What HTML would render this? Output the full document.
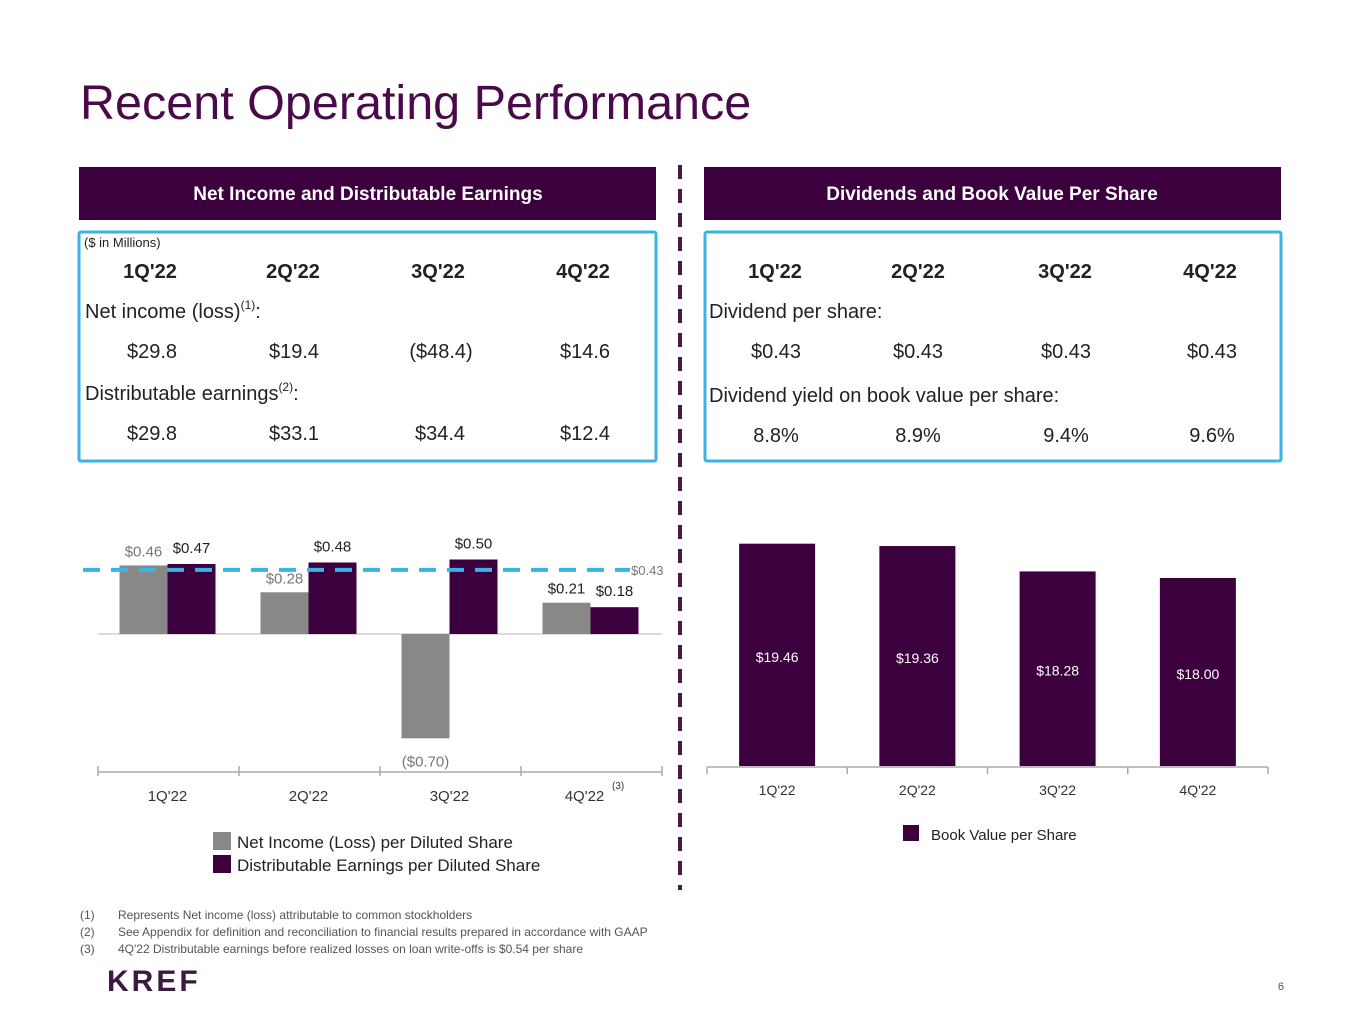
<!DOCTYPE html>
<html><head><meta charset="utf-8"><style>
body{margin:0;background:#fff}
svg{display:block;font-family:"Liberation Sans",sans-serif}
</style></head><body>
<svg width="1365" height="1024" viewBox="0 0 1365 1024">
<text x="80" y="119" font-size="48.5" fill="#4a0a4a">Recent Operating Performance</text>

<rect x="79" y="167" width="577" height="53" fill="#3c003e"/>
<text x="368" y="200" font-size="19" font-weight="bold" fill="#fff" text-anchor="middle">Net Income and Distributable Earnings</text>
<rect x="704" y="167" width="577" height="53" fill="#3c003e"/>
<text x="992" y="200" font-size="19" font-weight="bold" fill="#fff" text-anchor="middle">Dividends and Book Value Per Share</text>

<rect x="79" y="232" width="577" height="229" fill="none" stroke="#3ab3e5" stroke-width="3" rx="2"/>
<rect x="705" y="232" width="576" height="229" fill="none" stroke="#3ab3e5" stroke-width="3" rx="2"/>

<line x1="680" y1="165" x2="680" y2="890" stroke="#4a1a4a" stroke-width="4" stroke-dasharray="14,10"/>

<g font-size="20" fill="#222">
<text x="84" y="247" font-size="13">($ in Millions)</text>
<g font-weight="bold" text-anchor="middle">
<text x="150" y="278">1Q'22</text><text x="293" y="278">2Q'22</text><text x="438" y="278">3Q'22</text><text x="583" y="278">4Q'22</text></g>
<text x="85" y="318">Net income (loss)<tspan font-size="12" dy="-9">(1)</tspan><tspan dy="9">:</tspan></text>
<g text-anchor="middle"><text x="152" y="358">$29.8</text><text x="294" y="358">$19.4</text><text x="441" y="358">($48.4)</text><text x="585" y="358">$14.6</text></g>
<text x="85" y="400">Distributable earnings<tspan font-size="12" dy="-9">(2)</tspan><tspan dy="9">:</tspan></text>
<g text-anchor="middle"><text x="152" y="440">$29.8</text><text x="294" y="440">$33.1</text><text x="440" y="440">$34.4</text><text x="585" y="440">$12.4</text></g>
</g>

<g font-size="20" fill="#222">
<g font-weight="bold" text-anchor="middle">
<text x="775" y="278">1Q'22</text><text x="918" y="278">2Q'22</text><text x="1065" y="278">3Q'22</text><text x="1210" y="278">4Q'22</text></g>
<text x="709" y="318">Dividend per share:</text>
<g text-anchor="middle"><text x="776" y="358">$0.43</text><text x="918" y="358">$0.43</text><text x="1066" y="358">$0.43</text><text x="1212" y="358">$0.43</text></g>
<text x="709" y="402">Dividend yield on book value per share:</text>
<g text-anchor="middle"><text x="776" y="442">8.8%</text><text x="918" y="442">8.9%</text><text x="1066" y="442">9.4%</text><text x="1212" y="442">9.6%</text></g>
</g>

<g id="left-chart"></g>
<g id="right-chart"></g>

<g font-size="17" fill="#222">
<rect x="213" y="832" width="18" height="18" fill="#888"/>
<text x="237" y="848">Net Income (Loss) per Diluted Share</text>
<rect x="213" y="855" width="18" height="18" fill="#3c003e"/>
<text x="237" y="871">Distributable Earnings per Diluted Share</text>
</g>
<g font-size="15" fill="#222">
<rect x="903" y="825" width="16" height="16" fill="#3c003e"/>
<text x="931" y="840">Book Value per Share</text>
</g>

<g font-size="12" fill="#555">
<text x="80" y="919">(1)</text><text x="118" y="919">Represents Net income (loss)  attributable to common stockholders</text>
<text x="80" y="936">(2)</text><text x="118" y="936">See Appendix for definition and reconciliation to financial results prepared in accordance with GAAP</text>
<text x="80" y="953">(3)</text><text x="118" y="953">4Q'22 Distributable earnings before realized losses on loan write-offs is $0.54 per share</text>
</g>
<text x="107" y="991" font-size="30" font-weight="bold" fill="#3a1a3e" letter-spacing="3">KREF</text>
<text x="1284" y="990" font-size="11" fill="#555" text-anchor="end">6</text>
</svg>
<script>
const NS="http://www.w3.org/2000/svg";
const categories=["1Q'22","2Q'22","3Q'22","4Q'22"];
const netIncome=[0.46,0.28,-0.70,0.21];
const netIncomeLabels=["$0.46","$0.28","($0.70)","$0.21"];
const distributable=[0.47,0.48,0.50,0.18];
const distributableLabels=["$0.47","$0.48","$0.50","$0.18"];
const dividendLine=0.43;
const bookValue=[19.46,19.36,18.28,18.00];
const bookValueLabels=["$19.46","$19.36","$18.28","$18.00"];

function mk(tag,attrs,parent,txt){const e=document.createElementNS(NS,tag);for(const k in attrs)e.setAttribute(k,attrs[k]);if(txt!=null)e.textContent=txt;parent.appendChild(e);return e;}

// Left chart
const L=document.getElementById('left-chart');
const lx0=98,lx1=662,band=(lx1-lx0)/categories.length,ly0=634,lscale=149;
const ly=v=>ly0-v*lscale;
const lcx=i=>lx0+band*(i+0.5);
mk('line',{x1:98,y1:ly0,x2:662,y2:ly0,stroke:'#d0d0d0','stroke-width':1.5},L);
categories.forEach((c,i)=>{
  const cx=lcx(i)-1;
  const v=netIncome[i];
  const r=mk('rect',{x:cx-48,y:Math.min(ly(v),ly0),width:48,height:Math.abs(ly(v)-ly0),fill:'#888'},L);
  
  
  const d=distributable[i];
  const r2=mk('rect',{x:cx,y:ly(d),width:48,height:ly0-ly(d),fill:'#3c003e'},L);
  
  
  const ty=v>=0?ly(v)-9:ly(v)+28;
  const t=mk('text',{x:cx-24,y:ty,'font-size':15,fill:i==3?'#222':'#777','text-anchor':'middle'},L,netIncomeLabels[i]);
  
  
  const t2=mk('text',{x:cx+24,y:ly(d)-11,'font-size':15,fill:'#222','text-anchor':'middle'},L,distributableLabels[i]);
  
  
  const xl=mk('text',{x:cx+(i==3?-6:0),y:801,'font-size':15,fill:'#333','text-anchor':'middle'},L,c);
  
  
});
mk('text',{x:612,y:789,'font-size':10,fill:'#333'},L,'(3)');
mk('line',{x1:lx0,y1:772,x2:lx1,y2:772,stroke:'#aaa','stroke-width':1.5},L);
for(let i=0;i<=categories.length;i++)mk('line',{x1:lx0+band*i,y1:766,x2:lx0+band*i,y2:776,stroke:'#aaa','stroke-width':1.5},L);
const dl=mk('line',{x1:83,y1:ly(dividendLine),x2:630,y2:ly(dividendLine),stroke:'#3ab3e5','stroke-width':4,'stroke-dasharray':'17,11'},L);


mk('text',{x:631,y:575,'font-size':13,fill:'#777'},L,'$'+dividendLine.toFixed(2));

// Right chart
const R=document.getElementById('right-chart');
const rx0=707,rx1=1268,rband=(rx1-rx0)/categories.length,ry0=766,rmin=10,rscale=23.5;
const ry=v=>ry0-(v-rmin)*rscale;
categories.forEach((c,i)=>{
  const cx=rx0+rband*(i+0.5);
  const v=bookValue[i];
  const r=mk('rect',{x:cx-38,y:ry(v),width:76,height:ry0-ry(v),fill:'#3c003e'},R);
  
  
  const t=mk('text',{x:cx,y:(ry(v)+ry0)/2+7,'font-size':14,fill:'#fff','text-anchor':'middle'},R,bookValueLabels[i]);
  
  
  const xl=mk('text',{x:cx,y:795,'font-size':14,fill:'#333','text-anchor':'middle'},R,c);
  
  
});
mk('line',{x1:rx0,y1:767,x2:rx1,y2:767,stroke:'#aaa','stroke-width':1.5},R);
for(let i=0;i<=categories.length;i++)mk('line',{x1:rx0+rband*i,y1:767,x2:rx0+rband*i,y2:774,stroke:'#aaa','stroke-width':1.5},R);
</script>
</body></html>
